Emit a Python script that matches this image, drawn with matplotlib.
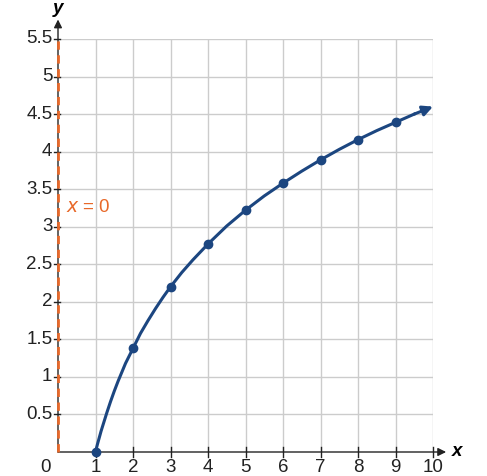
import matplotlib.pyplot as plt

plt.rcParams['font.family'] = ['Liberation Sans', 'DejaVu Sans']

# points marked on the curve
pt_x = [1, 2, 3, 4, 5, 6, 7, 8, 9]
pt_y = [0, 1.38, 2.2, 2.77, 3.22, 3.58, 3.89, 4.16, 4.39]

# curve
curve_x = [1, 1.05, 1.1, 1.15, 1.2, 1.3, 1.4, 1.5, 1.6, 1.7, 1.8, 1.9, 2, 2.2, 2.4, 2.6,
           2.8, 3, 3.3, 3.6, 4, 4.5, 5, 5.5, 6, 6.5, 7, 7.5, 8, 8.5, 9, 9.5, 10]
curve_y = [0, 0.1, 0.19, 0.28, 0.36, 0.52, 0.67, 0.81, 0.94, 1.06, 1.18, 1.28, 1.38, 1.58,
           1.75, 1.91, 2.06, 2.2, 2.39, 2.56, 2.77, 3.01, 3.22, 3.41, 3.58, 3.74, 3.89, 4.03,
           4.16, 4.28, 4.39, 4.5, 4.6]

x_ticks = [1, 2, 3, 4, 5, 6, 7, 8, 9, 10]
y_ticks = [0.5, 1, 1.5, 2, 2.5, 3, 3.5, 4, 4.5, 5, 5.5]
y_labels = ['0.5', '1', '1.5', '2', '2.5', '3', '3.5', '4', '4.5', '5', '5.5']

blue = '#1c4680'
orange = '#e8692a'

fig = plt.figure(figsize=(4.87, 4.76), dpi=100)
ax = fig.add_axes([58 / 487, 24 / 476, 375 / 487, 413 / 476])
ax.set_xlim(0, 10)
ax.set_ylim(0, 5.5)

# grid
for xv in x_ticks:
    ax.axvline(xv, color='#cccccc', lw=1, zorder=0)
for yv in y_ticks:
    ax.axhline(yv, color='#cccccc', lw=1, zorder=0)

for s in ax.spines.values():
    s.set_visible(False)
ax.set_xticks([])
ax.set_yticks([])

# axes with arrows
ax.annotate('', xy=(10.35, 0), xytext=(0, 0), annotation_clip=False,
            arrowprops=dict(arrowstyle='-|>', color='#222222', lw=1, mutation_scale=12,
                            shrinkA=0, shrinkB=0))
ax.annotate('', xy=(0, 5.76), xytext=(0, 0), annotation_clip=False,
            arrowprops=dict(arrowstyle='-|>', color='#222222', lw=1, mutation_scale=12,
                            shrinkA=0, shrinkB=0))
ax.text(10.5, 0.0, 'x', style='italic', fontweight='bold', fontsize=13.5, ha='left', va='center')
ax.text(0, 5.9, 'y', style='italic', fontweight='bold', fontsize=13.5, ha='center', va='center')

# tick marks and labels
for xv in x_ticks:
    ax.plot([xv, xv], [-0.06, 0.06], color='#222222', lw=1, clip_on=False)
    ax.text(xv, -0.09, str(xv), ha='center', va='top', fontsize=13.5, color='#222222')
for yv, lab in zip(y_ticks, y_labels):
    ax.plot([-0.12, 0.06], [yv, yv], color='#222222', lw=1, clip_on=False)
    ax.text(-0.15, yv, lab, ha='right', va='center', fontsize=13.5, color='#222222')
ax.text(-0.2, -0.09, '0', ha='right', va='top', fontsize=13.5, color='#222222')

# asymptote
ax.plot([0, 0], [0, 5.5], color=orange, lw=2, ls=(0, (3, 2)), clip_on=False, zorder=3)
ax.text(0.22, 3.25, '$x$ = 0', color=orange, fontsize=13.5, ha='left', va='center')

# curve
ax.plot(curve_x[:-1], curve_y[:-1], color=blue, lw=2.2, zorder=4)
ax.annotate('', xy=(curve_x[-1], curve_y[-1]), xytext=(curve_x[-2], curve_y[-2]),
            annotation_clip=False,
            arrowprops=dict(arrowstyle='-|>', color=blue, lw=2.2, mutation_scale=15,
                            shrinkA=0, shrinkB=0))
ax.plot(pt_x, pt_y, 'o', color=blue, ms=6, zorder=5, clip_on=False)

fig.savefig('out.png', dpi=100)
